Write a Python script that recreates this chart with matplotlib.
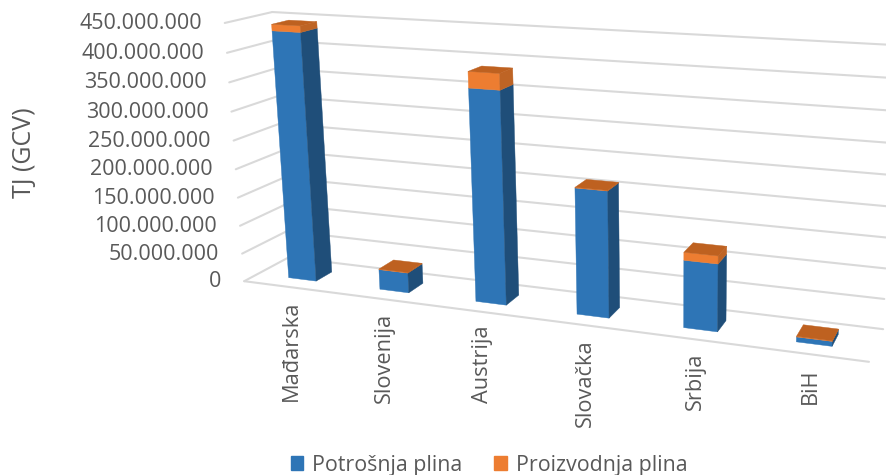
import numpy as np
import matplotlib
matplotlib.use("Agg")
import matplotlib.pyplot as plt
from matplotlib.patches import Polygon, Patch

categories = ["Mađarska", "Slovenija", "Austrija", "Slovačka", "Srbija", "BiH"]
potrosnja = [434e6, 35e6, 360e6, 211e6, 111e6, 8e6]
proizvodnja = [11e6, 1e6, 27e6, 1e6, 13e6, 1e6]
y_ticks = [0, 50e6, 100e6, 150e6, 200e6, 250e6, 300e6, 350e6, 400e6, 450e6]
y_max = 450e6

plt.rcParams["font.family"] = ["Open Sans", "DejaVu Sans"]
TXT = "#595959"
GRID = "#D9D9D9"
BLUE, BLUE_S = "#2E75B6", "#1F4E79"
ORANGE, ORANGE_S, ORANGE_T = "#ED7D31", "#BE6425", "#BE6120"

# camera of the 3D chart box: (u along categories, v up, w into the depth) -> pixels
cal = [((0, 0, 1), (290, 257.5)), ((0, 1, 1), (271, 12)),
       ((1, 0, 1), (883, 329)), ((1, 1, 1), (894, 45)),
       ((0, 0, 0), (243, 281)), ((1, 0, 0), (869, 362)),
       ((0, 1, 0), (226, 23))]
A = []
for (X, Y, Z), (x, y) in cal:
    A.append([X, Y, Z, 1, 0, 0, 0, 0, -x * X, -x * Y, -x * Z, -x])
    A.append([0, 0, 0, 0, X, Y, Z, 1, -y * X, -y * Y, -y * Z, -y])
CAM = np.linalg.svd(np.array(A, float))[2][-1].reshape(3, 4)


def proj(u, val, w):
    h = CAM @ np.array([u, val / y_max, w, 1.0])
    return h[0] / h[2], h[1] / h[2]


fig = plt.figure(figsize=(8.86, 4.75), dpi=100)
ax = fig.add_axes([0, 0, 1, 1])
ax.set_xlim(0, 886)
ax.set_ylim(475, 0)
ax.axis("off")


def seg(a, b):
    ax.plot([a[0], b[0]], [a[1], b[1]], color=GRID, lw=1.5, solid_capstyle="round", zorder=1)


for t in y_ticks:
    seg(proj(0, t, 0), proj(0, t, 1))
    seg(proj(0, t, 1), proj(1, t, 1))
    x, y = proj(0, t, 0)
    ax.text(x - 23, y + 0.5, f"{int(t):,}".replace(",", "."), ha="right", va="center",
            fontsize=15.5, color=TXT)
seg(proj(0, 0, 0), proj(1, 0, 0))

n = len(categories)
half, w0, w1 = 0.0255, 0.30, 0.67
z = 2


def face(pts, color):
    global z
    ax.add_patch(Polygon(pts, closed=True, fc=color, ec=color, lw=0.3, zorder=z))
    z += 1


for i in range(n):
    uc = (i + 0.5) / n
    ul, ur = uc - half, uc + half
    lo = 0.0
    for val, cf, cs in ((potrosnja[i], BLUE, BLUE_S), (proizvodnja[i], ORANGE, ORANGE_S)):
        hi = lo + val
        face([proj(ul, lo, w0), proj(ur, lo, w0), proj(ur, hi, w0), proj(ul, hi, w0)], cf)
        face([proj(ur, lo, w0), proj(ur, lo, w1), proj(ur, hi, w1), proj(ur, hi, w0)], cs)
        lo = hi
    face([proj(ul, lo, w0), proj(ur, lo, w0), proj(ur, lo, w1), proj(ul, lo, w1)], ORANGE_T)
    x, y = proj(uc, 0, 0)
    ax.text(x + 2, y + 14, categories[i], rotation=90, ha="center", va="top",
            fontsize=15.7, color=TXT)

ax.text(25, 153, "TJ (GCV)", rotation=90, ha="center", va="center", fontsize=18, color=TXT)

handles = [Patch(color=BLUE, label="Potrošnja plina"), Patch(color=ORANGE, label="Proizvodnja plina")]
fig.legend(handles=handles, loc="center", bbox_to_anchor=(489 / 886, 1 - 465 / 475), ncol=2,
           frameon=False, fontsize=15.4, labelcolor=TXT, handlelength=0.6, handleheight=0.6,
           handletextpad=0.4, columnspacing=1.5, borderpad=0)
fig.savefig("out.png", dpi=100)
